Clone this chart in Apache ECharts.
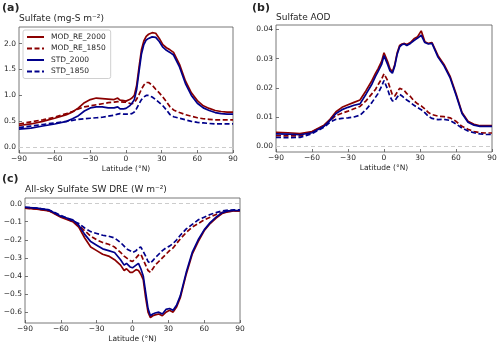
<!DOCTYPE html>
<html>
<head>
<meta charset="utf-8">
<script src="https://cdn.jsdelivr.net/npm/echarts@6/dist/echarts.min.js"></script>
<style>
  html, body { margin:0; padding:0; background:#fff; }
  #chart { width:500px; height:348px; }
</style>
</head>
<body>
<div id="chart"></div>
<script>
// latitude grid shared by every curve
const lats = [-90,-80,-70,-60,-50,-45,-40,-35,-30,-25,-20,-15,-10,-7,-5,-2,0,3,5,7,9,11,13,15,17,19,22,25,28,31,34,37,40,45,50,55,60,65,70,75,80,85,90];

const seriesNames = ['MOD_RE_2000','MOD_RE_1850','STD_2000','STD_1850'];

// (a) sulfate burden, mg-S m-2
const aRed2000  = [.42,.45,.5,.56,.63,.68,.76,.86,.92,.95,.94,.93,.92,.95,.91,.90,.89,.92,.95,1.0,1.2,1.55,1.88,2.05,2.14,2.18,2.21,2.2,2.1,1.98,1.92,1.88,1.83,1.6,1.28,1.05,.9,.8,.75,.71,.69,.68,.68];
const aRed1850  = [.45,.49,.53,.58,.65,.69,.74,.78,.8,.82,.84,.86,.87,.88,.88,.87,.87,.85,.84,.86,.93,1.02,1.12,1.2,1.25,1.25,1.2,1.12,1.05,.97,.88,.78,.72,.67,.63,.6,.57,.55,.54,.53,.53,.53,.53];
const aBlue2000 = [.35,.37,.41,.45,.5,.55,.61,.7,.76,.78,.78,.76,.76,.78,.74,.74,.75,.8,.85,.92,1.12,1.47,1.8,1.98,2.07,2.1,2.13,2.12,2.04,1.93,1.87,1.83,1.78,1.55,1.23,1.0,.85,.76,.71,.67,.65,.64,.64];
const aBlue1850 = [.38,.41,.44,.47,.5,.52,.54,.55,.56,.57,.58,.6,.62,.64,.65,.64,.64,.64,.65,.68,.75,.84,.92,.97,1.0,1.0,.97,.92,.86,.8,.72,.63,.59,.56,.53,.5,.48,.47,.46,.45,.45,.45,.45];

// (b) sulfate AOD
const bRed2000  = [.0047,.0046,.0043,.005,.0072,.0092,.0118,.0133,.0142,.015,.0158,.019,.0225,.025,.0265,.029,.032,.029,.0265,.0255,.028,.032,.0345,.035,.0352,.0348,.0355,.0368,.0375,.0395,.0358,.0352,.0355,.031,.028,.024,.018,.0115,.0085,.0075,.007,.007,.007];
const bRed1850  = [.0036,.0035,.0035,.0048,.007,.0088,.0105,.0113,.012,.0128,.0136,.0155,.018,.0195,.021,.023,.0248,.0225,.02,.0175,.0172,.0185,.0198,.0195,.019,.018,.017,.0155,.0145,.0138,.0128,.0115,.0108,.0103,.0101,.0097,.0085,.0068,.0058,.005,.0046,.0045,.0045];
const bBlue2000 = [.0042,.0041,.0039,.0046,.0068,.0088,.0112,.0125,.0133,.014,.0145,.0178,.0213,.024,.0255,.028,.031,.028,.0258,.025,.0275,.0315,.034,.0348,.035,.0345,.0352,.0362,.037,.038,.0355,.035,.0352,.0305,.0275,.0235,.0175,.0112,.0082,.0072,.0068,.0068,.0068];
const bBlue1850 = [.003,.0029,.003,.0043,.0065,.0082,.0092,.0095,.0097,.01,.0106,.0125,.015,.0168,.018,.0205,.0225,.0195,.017,.0155,.0155,.0168,.0178,.0172,.0165,.0158,.015,.014,.0132,.0125,.0115,.0102,.0095,.0091,.0092,.0088,.0076,.0062,.0052,.0046,.0042,.004,.004];

// (c) all-sky sulfate SW DRE, W m-2
const cRed2000  = [-.025,-.03,-.04,-.075,-.1,-.13,-.19,-.24,-.26,-.28,-.29,-.31,-.34,-.37,-.36,-.38,-.38,-.365,-.37,-.39,-.42,-.52,-.6,-.63,-.62,-.615,-.61,-.62,-.6,-.59,-.6,-.57,-.52,-.39,-.28,-.21,-.15,-.11,-.08,-.055,-.045,-.04,-.04];
const cRed1850  = [-.025,-.03,-.04,-.07,-.1,-.12,-.15,-.18,-.2,-.215,-.225,-.24,-.27,-.29,-.3,-.315,-.32,-.3,-.285,-.28,-.31,-.34,-.37,-.38,-.36,-.34,-.32,-.3,-.28,-.26,-.245,-.22,-.195,-.16,-.13,-.11,-.09,-.075,-.06,-.05,-.045,-.04,-.04];
const cBlue2000 = [-.02,-.025,-.035,-.07,-.09,-.12,-.17,-.21,-.23,-.25,-.26,-.27,-.31,-.34,-.33,-.35,-.355,-.34,-.33,-.36,-.4,-.49,-.58,-.62,-.61,-.605,-.6,-.61,-.585,-.58,-.59,-.56,-.51,-.38,-.27,-.2,-.145,-.105,-.075,-.05,-.04,-.038,-.038];
const cBlue1850 = [-.02,-.025,-.035,-.065,-.095,-.11,-.135,-.155,-.165,-.175,-.18,-.19,-.215,-.235,-.25,-.26,-.27,-.26,-.245,-.24,-.265,-.29,-.32,-.33,-.315,-.3,-.28,-.26,-.245,-.235,-.22,-.2,-.175,-.14,-.115,-.09,-.075,-.06,-.05,-.04,-.036,-.035,-.035];

// tick labels
const xTicks  = [-90,-60,-30,0,30,60,90];
const aYTicks = [0,0.5,1,1.5,2];
const bYTicks = [0,0.01,0.02,0.03,0.04];
const cYTicks = [0,-0.1,-0.2,-0.3,-0.4,-0.5,-0.6];

const RED = '#8b0000', BLUE = '#00008b';
const FONT = 'DejaVu Sans';
const TXT = '#262626', FRAME = '#555';

const fmt = d => v => (v < -1e-9 ? '\u2212' : '') + Math.abs(v).toFixed(d);

function pairs(ys){ return lats.map((x,i) => [x, ys[i]]); }

function xAxisFor(gi){
  return {
    gridIndex: gi, type:'value', min:-90, max:90,
    name:'Latitude (°N)', nameLocation:'middle', nameGap:12,
    nameTextStyle:{ fontFamily:FONT, fontSize:7.5, color:TXT },
    axisLine:{ show:false, onZero:false },
    axisTick:{ show:true, inside:true, length:3, customValues:xTicks, lineStyle:{ color:FRAME, width:0.8 } },
    axisLabel:{ fontFamily:FONT, fontSize:7.5, color:TXT, margin:2, customValues:xTicks, formatter: fmt(0) },
    splitLine:{ show:false }
  };
}
function yAxisFor(gi, min, max, ticks, dec){
  return {
    gridIndex: gi, type:'value', min:min, max:max,
    axisLine:{ show:false, onZero:false },
    axisTick:{ show:true, inside:true, length:3, customValues:ticks, lineStyle:{ color:FRAME, width:0.8 } },
    axisLabel:{ fontFamily:FONT, fontSize:7.5, color:TXT, margin:3, customValues:ticks, formatter: fmt(dec) },
    splitLine:{ show:false }
  };
}

function lineSeries(gi, name, ys, color, dashed, withZero){
  const s = {
    name: name, type:'line', xAxisIndex:gi, yAxisIndex:gi,
    data: pairs(ys), symbol:'none', smooth:false, z: 3,
    lineStyle:{ color:color, width:1.7, type: dashed ? [5,2.5] : 'solid' },
    itemStyle:{ color:color }
  };
  if (withZero) {
    s.markLine = {
      silent:true, symbol:'none', label:{ show:false }, z:1,
      lineStyle:{ color:'#cccccc', width:1, type:[4,3] },
      data:[{ yAxis:0 }]
    };
  }
  return s;
}

const groups = [
  [aRed2000, aRed1850, aBlue2000, aBlue1850],
  [bRed2000, bRed1850, bBlue2000, bBlue1850],
  [cRed2000, cRed1850, cBlue2000, cBlue1850]
];
const colors = [RED, RED, BLUE, BLUE];
const dashes = [false, true, false, true];

const series = [];
groups.forEach((g, gi) => {
  g.forEach((ys, k) => series.push(lineSeries(gi, seriesNames[k], ys, colors[k], dashes[k], k === 0)));
});

const chart = echarts.init(document.getElementById('chart'), null, { renderer:'canvas' });
chart.setOption({
  animation:false,
  backgroundColor:'#fff',
  title:[
    { text:'(a)', left:2, top:3, padding:0, textStyle:{ fontFamily:FONT, fontSize:11, fontWeight:'bold', color:TXT } },
    { text:'Sulfate (mg-S m\u207b\u00b2)', left:19, top:14, padding:0, textStyle:{ fontFamily:FONT, fontSize:9, fontWeight:'normal', color:TXT } },
    { text:'(b)', left:252, top:3, padding:0, textStyle:{ fontFamily:FONT, fontSize:11, fontWeight:'bold', color:TXT } },
    { text:'Sulfate AOD', left:276, top:13, padding:0, textStyle:{ fontFamily:FONT, fontSize:9, fontWeight:'normal', color:TXT } },
    { text:'(c)', left:2, top:174, padding:0, textStyle:{ fontFamily:FONT, fontSize:11, fontWeight:'bold', color:TXT } },
    { text:'All-sky Sulfate SW DRE (W m\u207b\u00b2)', left:25, top:185, padding:0, textStyle:{ fontFamily:FONT, fontSize:9, fontWeight:'normal', color:TXT } }
  ],
  legend:{
    data: seriesNames, orient:'vertical', left:23, top:30,
    itemWidth:17, itemHeight:8, itemGap:3.5,
    itemStyle:{ opacity:0 },
    lineStyle:{ width:2 },
    padding:[3,5,3,3], borderColor:'#d0d0d0', borderWidth:1, borderRadius:2,
    backgroundColor:'rgba(255,255,255,0.8)',
    textStyle:{ fontFamily:FONT, fontSize:7.5, color:TXT, padding:[0,0,0,2] }
  },
  grid:[
    { left:19,  top:27,  width:214, height:126, show:true, borderColor:FRAME, borderWidth:0.8, backgroundColor:'transparent' },
    { left:276, top:25,  width:216, height:127, show:true, borderColor:FRAME, borderWidth:0.8, backgroundColor:'transparent' },
    { left:25,  top:198, width:215, height:125, show:true, borderColor:FRAME, borderWidth:0.8, backgroundColor:'transparent' }
  ],
  xAxis:[ xAxisFor(0), xAxisFor(1), xAxisFor(2) ],
  yAxis:[
    yAxisFor(0, -0.11, 2.32, aYTicks, 1),
    yAxisFor(1, -0.002, 0.0415, bYTicks, 2),
    yAxisFor(2, -0.66, 0.031, cYTicks, 1)
  ],
  series: series
});
</script>
</body>
</html>
